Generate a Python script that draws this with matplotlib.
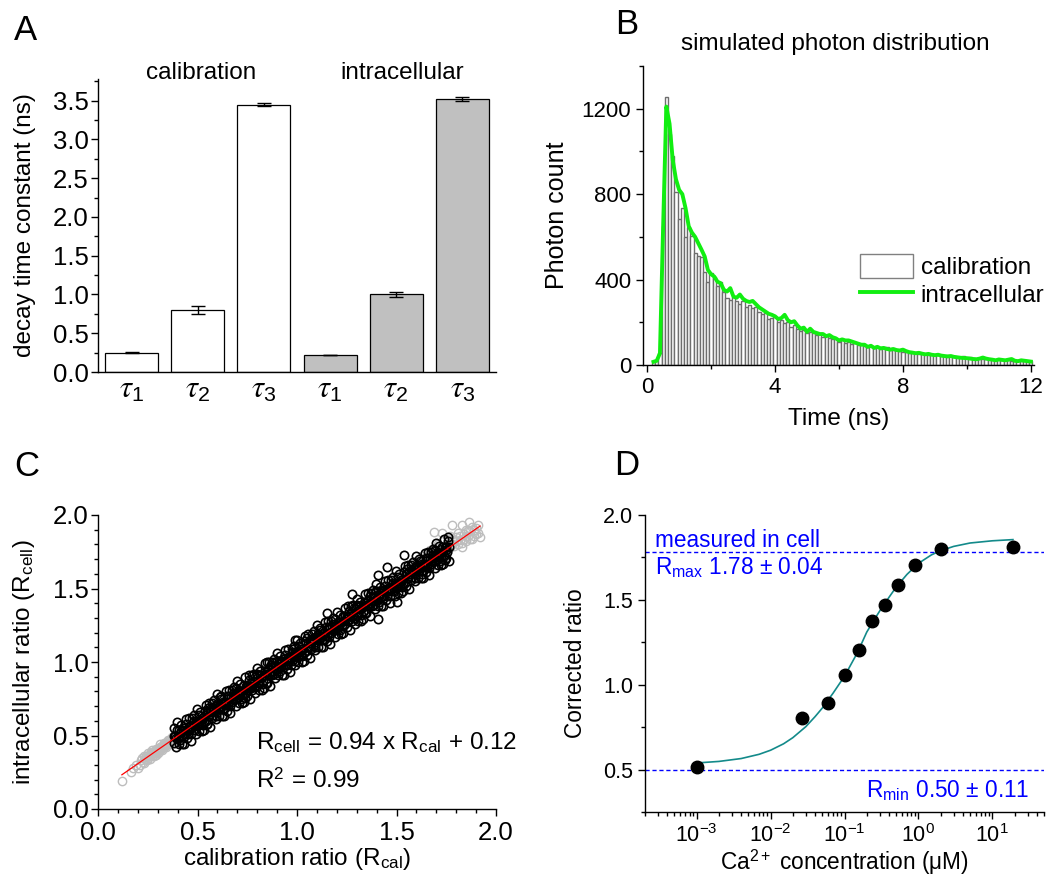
import numpy as np
import matplotlib
matplotlib.use('Agg')
import matplotlib.pyplot as plt
from matplotlib.patches import Patch
from matplotlib.lines import Line2D
from matplotlib.ticker import MultipleLocator, FormatStrFormatter, LogLocator, NullFormatter

plt.rcParams['font.family'] = ['Liberation Sans', 'DejaVu Sans']
plt.rcParams['mathtext.fontset'] = 'stix'
plt.rcParams['axes.unicode_minus'] = False

# ---- A: decay time constants (ns)
tau_labels = [r'$\tau_\mathregular{1}$', r'$\tau_\mathregular{2}$', r'$\tau_\mathregular{3}$'] * 2
cal_tau = [0.25, 0.80, 3.45]
cal_tau_err = [0.005, 0.05, 0.02]
cell_tau = [0.22, 1.00, 3.52]
cell_tau_err = [0.005, 0.03, 0.03]

# ---- B: photon histograms, 0.1 ns bins starting at 0.2 ns
bin_width = 0.1
first_bin = 0.2
cal_counts = [20, 22, 55, 650, 1255, 1080, 980, 810, 685, 735,
              600, 645, 605, 525, 510, 505, 435, 390, 430, 410,
              370, 390, 340, 315, 305, 320, 300, 285, 300, 270,
              280, 265, 270, 250, 240, 245, 215, 220, 225, 200,
              210, 195, 200, 180, 185, 170, 160, 165, 150, 155,
              150, 140, 145, 130, 135, 125, 120, 125, 110, 115,
              105, 110, 100, 105, 95, 100, 90, 85, 90, 80,
              85, 75, 80, 85, 70, 72, 68, 65, 60, 62,
              58, 55, 60, 52, 55, 50, 48, 52, 45, 48,
              44, 42, 45, 40, 42, 38, 36, 40, 34, 36,
              32, 30, 34, 30, 28, 30, 26, 25, 28, 24,
              22, 25, 21, 20, 22, 19, 18, 20, 17]
cell_counts = [15, 20, 55, 650, 1210, 1130, 960, 870, 820, 800,
               735, 650, 620, 600, 570, 540, 508, 445, 425, 414,
               390, 383, 352, 344, 360, 320, 315, 330, 310, 300,
               295, 300, 285, 270, 260, 250, 240, 235, 228, 215,
               220, 235, 210, 200, 205, 185, 170, 175, 155, 170,
               155, 150, 145, 145, 135, 140, 130, 125, 115, 120,
               115, 115, 110, 105, 100, 95, 95, 85, 90, 80,
               85, 78, 80, 75, 72, 75, 70, 68, 72, 65,
               60, 58, 55, 57, 53, 50, 52, 48, 46, 48,
               44, 42, 40, 42, 38, 36, 34, 33, 32, 30,
               28, 27, 30, 35, 30, 27, 25, 22, 26, 24,
               22, 25, 28, 20, 18, 22, 20, 18, 16]

# ---- C: pixel ratios, calibration vs intracellular
black_x = [0.380, 0.384, 0.388, 0.392, 0.397, 0.401, 0.405, 0.409, 0.413, 0.418, 0.422, 0.426,
           0.430, 0.434, 0.438, 0.442, 0.447, 0.451, 0.455, 0.459, 0.463, 0.468, 0.472, 0.476,
           0.480, 0.484, 0.488, 0.492, 0.497, 0.501, 0.505, 0.509, 0.513, 0.518, 0.522, 0.526,
           0.530, 0.534, 0.538, 0.542, 0.547, 0.551, 0.555, 0.559, 0.563, 0.568, 0.572, 0.576,
           0.580, 0.584, 0.588, 0.592, 0.597, 0.601, 0.605, 0.609, 0.613, 0.618, 0.622, 0.626,
           0.630, 0.634, 0.638, 0.642, 0.647, 0.651, 0.655, 0.659, 0.663, 0.668, 0.672, 0.676,
           0.680, 0.684, 0.688, 0.692, 0.697, 0.701, 0.705, 0.709, 0.713, 0.718, 0.722, 0.726,
           0.730, 0.734, 0.738, 0.742, 0.747, 0.751, 0.755, 0.759, 0.763, 0.768, 0.772, 0.776,
           0.780, 0.784, 0.788, 0.792, 0.797, 0.801, 0.805, 0.809, 0.813, 0.818, 0.822, 0.826,
           0.830, 0.834, 0.838, 0.842, 0.847, 0.851, 0.855, 0.859, 0.863, 0.868, 0.872, 0.876,
           0.880, 0.884, 0.888, 0.892, 0.897, 0.901, 0.905, 0.909, 0.913, 0.918, 0.922, 0.926,
           0.930, 0.934, 0.938, 0.942, 0.947, 0.951, 0.955, 0.959, 0.963, 0.968, 0.972, 0.976,
           0.980, 0.984, 0.988, 0.992, 0.997, 1.001, 1.005, 1.009, 1.013, 1.018, 1.022, 1.026,
           1.030, 1.034, 1.038, 1.042, 1.047, 1.051, 1.055, 1.059, 1.063, 1.068, 1.072, 1.076,
           1.080, 1.084, 1.088, 1.092, 1.097, 1.101, 1.105, 1.109, 1.113, 1.118, 1.122, 1.126,
           1.130, 1.134, 1.138, 1.142, 1.147, 1.151, 1.155, 1.159, 1.163, 1.168, 1.172, 1.176,
           1.180, 1.184, 1.188, 1.192, 1.197, 1.201, 1.205, 1.209, 1.213, 1.218, 1.222, 1.226,
           1.230, 1.234, 1.238, 1.242, 1.247, 1.251, 1.255, 1.259, 1.263, 1.268, 1.272, 1.276,
           1.280, 1.284, 1.288, 1.292, 1.297, 1.301, 1.305, 1.309, 1.313, 1.318, 1.322, 1.326,
           1.330, 1.334, 1.338, 1.342, 1.347, 1.351, 1.355, 1.359, 1.363, 1.368, 1.372, 1.376,
           1.380, 1.384, 1.388, 1.392, 1.397, 1.401, 1.405, 1.409, 1.413, 1.418, 1.422, 1.426,
           1.430, 1.434, 1.438, 1.442, 1.447, 1.451, 1.455, 1.459, 1.463, 1.468, 1.472, 1.476,
           1.480, 1.484, 1.488, 1.492, 1.497, 1.501, 1.505, 1.509, 1.513, 1.518, 1.522, 1.526,
           1.530, 1.534, 1.538, 1.542, 1.547, 1.551, 1.555, 1.559, 1.563, 1.568, 1.572, 1.576,
           1.580, 1.584, 1.588, 1.592, 1.597, 1.601, 1.605, 1.609, 1.613, 1.618, 1.622, 1.626,
           1.630, 1.634, 1.638, 1.642, 1.647, 1.651, 1.655, 1.659, 1.663, 1.668, 1.672, 1.676,
           1.680, 1.684, 1.688, 1.692, 1.697, 1.701, 1.705, 1.709, 1.713, 1.718, 1.722, 1.726,
           1.730, 1.734, 1.738, 1.742, 1.747, 1.751, 1.755, 1.759, 1.763,
           0.738, 1.409, 1.451, 1.409, 0.847, 0.990, 1.275, 1.500, 1.745, 1.540, 0.620, 1.150, 0.550, 1.630]
black_y = [0.50, 0.45, 0.50, 0.48, 0.54, 0.48, 0.50, 0.54, 0.47, 0.53, 0.50, 0.54,
           0.51, 0.55, 0.51, 0.58, 0.54, 0.51, 0.56, 0.54, 0.56, 0.51, 0.56, 0.54,
           0.60, 0.57, 0.54, 0.60, 0.58, 0.60, 0.57, 0.64, 0.60, 0.58, 0.62, 0.57,
           0.62, 0.60, 0.67, 0.60, 0.66, 0.69, 0.63, 0.63, 0.68, 0.66, 0.62, 0.67,
           0.64, 0.68, 0.70, 0.63, 0.70, 0.69, 0.72, 0.69, 0.68, 0.75, 0.70, 0.68,
           0.73, 0.68, 0.73, 0.71, 0.77, 0.71, 0.73, 0.77, 0.70, 0.76, 0.73, 0.77,
           0.75, 0.79, 0.75, 0.82, 0.78, 0.75, 0.80, 0.78, 0.80, 0.75, 0.80, 0.78,
           0.84, 0.81, 0.78, 0.84, 0.82, 0.84, 0.81, 0.88, 0.84, 0.82, 0.86, 0.81,
           0.85, 0.83, 0.90, 0.83, 0.89, 0.92, 0.86, 0.86, 0.91, 0.89, 0.85, 0.90,
           0.87, 0.91, 0.93, 0.86, 0.93, 0.92, 0.95, 0.92, 0.91, 0.98, 0.93, 0.91,
           0.97, 0.92, 0.97, 0.95, 1.01, 0.95, 0.97, 1.01, 0.94, 1.00, 0.97, 1.01,
           0.98, 1.02, 0.98, 1.05, 1.01, 0.98, 1.03, 1.01, 1.03, 0.98, 1.03, 1.01,
           1.07, 1.04, 1.01, 1.07, 1.05, 1.07, 1.04, 1.11, 1.07, 1.05, 1.09, 1.04,
           1.09, 1.07, 1.14, 1.07, 1.13, 1.16, 1.10, 1.10, 1.15, 1.13, 1.09, 1.14,
           1.11, 1.15, 1.17, 1.10, 1.17, 1.16, 1.19, 1.16, 1.15, 1.22, 1.17, 1.15,
           1.20, 1.15, 1.20, 1.18, 1.24, 1.18, 1.20, 1.24, 1.17, 1.23, 1.20, 1.24,
           1.22, 1.26, 1.22, 1.29, 1.25, 1.22, 1.27, 1.25, 1.27, 1.22, 1.27, 1.25,
           1.31, 1.28, 1.25, 1.31, 1.29, 1.31, 1.28, 1.35, 1.31, 1.29, 1.33, 1.28,
           1.32, 1.30, 1.37, 1.30, 1.36, 1.39, 1.33, 1.33, 1.38, 1.36, 1.32, 1.37,
           1.34, 1.38, 1.40, 1.33, 1.40, 1.39, 1.42, 1.39, 1.38, 1.45, 1.40, 1.38,
           1.44, 1.39, 1.44, 1.42, 1.48, 1.42, 1.44, 1.48, 1.41, 1.47, 1.44, 1.48,
           1.45, 1.49, 1.45, 1.52, 1.48, 1.45, 1.50, 1.48, 1.50, 1.45, 1.50, 1.48,
           1.54, 1.51, 1.48, 1.54, 1.52, 1.54, 1.51, 1.58, 1.54, 1.52, 1.56, 1.51,
           1.56, 1.54, 1.61, 1.54, 1.60, 1.63, 1.57, 1.57, 1.62, 1.60, 1.56, 1.61,
           1.58, 1.62, 1.64, 1.57, 1.64, 1.63, 1.66, 1.63, 1.62, 1.69, 1.64, 1.62,
           1.67, 1.62, 1.67, 1.65, 1.71, 1.65, 1.67, 1.71, 1.64, 1.70, 1.67, 1.71,
           1.69, 1.73, 1.69, 1.76, 1.72, 1.69, 1.74, 1.72, 1.74, 1.69, 1.74, 1.72,
           1.78, 1.75, 1.72, 1.78, 1.76, 1.78, 1.75, 1.82, 1.78,
           0.753, 1.292, 1.649, 1.592, 1.002, 1.150, 1.463, 1.410, 1.694, 1.728, 0.770, 1.330, 0.580, 1.600]
# points on the upper/lower fringe of the black band
edge_x = [0.383, 0.391, 0.399, 0.407, 0.415, 0.423, 0.433, 0.441, 0.449, 0.457, 0.465, 0.473,
          0.483, 0.491, 0.499, 0.507, 0.515, 0.523, 0.533, 0.541, 0.549, 0.557, 0.565, 0.573,
          0.583, 0.591, 0.599, 0.607, 0.615, 0.623, 0.633, 0.641, 0.649, 0.657, 0.665, 0.673,
          0.683, 0.691, 0.699, 0.707, 0.715, 0.723, 0.733, 0.741, 0.749, 0.757, 0.765, 0.773,
          0.783, 0.791, 0.799, 0.807, 0.815, 0.823, 0.833, 0.841, 0.849, 0.857, 0.865, 0.873,
          0.883, 0.891, 0.899, 0.907, 0.915, 0.923, 0.933, 0.941, 0.949, 0.957, 0.965, 0.973,
          0.983, 0.991, 0.999, 1.007, 1.015, 1.023, 1.033, 1.041, 1.049, 1.057, 1.065, 1.073,
          1.083, 1.091, 1.099, 1.107, 1.115, 1.123, 1.133, 1.141, 1.149, 1.157, 1.165, 1.173,
          1.183, 1.191, 1.199, 1.207, 1.215, 1.223, 1.233, 1.241, 1.249, 1.257, 1.265, 1.273,
          1.283, 1.291, 1.299, 1.307, 1.315, 1.323, 1.333, 1.341, 1.349, 1.357, 1.365, 1.373,
          1.383, 1.391, 1.399, 1.407, 1.415, 1.423, 1.433, 1.441, 1.449, 1.457, 1.465, 1.473,
          1.483, 1.491, 1.499, 1.507, 1.515, 1.523, 1.533, 1.541, 1.549, 1.557, 1.565, 1.573,
          1.583, 1.591, 1.599, 1.607, 1.615, 1.623, 1.633, 1.641, 1.649, 1.657, 1.665, 1.673,
          1.683, 1.691, 1.699, 1.707, 1.715, 1.723, 1.733, 1.741, 1.749, 1.757, 1.765]
edge_y = [0.55, 0.42, 0.59, 0.44, 0.57, 0.44, 0.44, 0.61, 0.48, 0.62, 0.46, 0.62,
          0.64, 0.51, 0.68, 0.53, 0.66, 0.53, 0.54, 0.71, 0.58, 0.72, 0.56, 0.72,
          0.74, 0.61, 0.78, 0.63, 0.76, 0.63, 0.63, 0.80, 0.67, 0.81, 0.65, 0.81,
          0.83, 0.70, 0.87, 0.72, 0.85, 0.72, 0.73, 0.90, 0.77, 0.91, 0.75, 0.91,
          0.92, 0.79, 0.96, 0.81, 0.94, 0.81, 0.82, 0.99, 0.86, 1.00, 0.84, 1.00,
          1.02, 0.89, 1.06, 0.91, 1.04, 0.91, 0.91, 1.08, 0.95, 1.09, 0.93, 1.09,
          1.11, 0.98, 1.15, 1.00, 1.13, 1.00, 1.01, 1.18, 1.05, 1.19, 1.03, 1.19,
          1.21, 1.08, 1.25, 1.10, 1.23, 1.10, 1.10, 1.27, 1.14, 1.28, 1.12, 1.28,
          1.30, 1.17, 1.34, 1.19, 1.32, 1.19, 1.20, 1.37, 1.24, 1.38, 1.22, 1.38,
          1.39, 1.26, 1.43, 1.28, 1.41, 1.28, 1.29, 1.46, 1.33, 1.47, 1.31, 1.47,
          1.49, 1.36, 1.53, 1.38, 1.51, 1.38, 1.38, 1.55, 1.42, 1.56, 1.40, 1.56,
          1.58, 1.45, 1.62, 1.47, 1.60, 1.47, 1.48, 1.65, 1.52, 1.66, 1.50, 1.66,
          1.68, 1.55, 1.72, 1.57, 1.70, 1.57, 1.57, 1.74, 1.61, 1.75, 1.59, 1.75,
          1.77, 1.64, 1.81, 1.66, 1.79, 1.66, 1.67, 1.84, 1.71, 1.85, 1.69]
gray_x = [0.120, 0.165, 0.175, 0.200, 0.215, 0.225, 0.235, 0.240, 0.250, 0.255, 0.260, 0.270,
          0.275, 0.280, 0.285, 0.290, 0.295, 0.300, 0.305, 0.310, 0.315, 0.320, 0.325, 0.330,
          0.335, 0.340, 0.345, 0.350, 0.355, 0.360, 0.365, 0.370, 0.375, 0.380, 0.390, 0.400,
          0.210, 0.245, 0.265, 0.290, 0.310, 0.330,
          0.22, 0.23, 0.25, 0.26, 0.27, 0.28, 0.29, 0.30, 0.31, 0.32, 0.33, 0.34,
          0.35, 0.36, 0.37, 0.38, 0.39, 0.40, 0.41, 0.42, 0.19, 0.23,
          1.62, 1.64, 1.66, 1.68, 1.69, 1.70, 1.71, 1.72, 1.73, 1.74, 1.75, 1.76, 1.77, 1.78,
          1.78, 1.79, 1.80, 1.80, 1.81, 1.82, 1.82, 1.83, 1.84, 1.84, 1.85, 1.86, 1.86, 1.87,
          1.88, 1.89, 1.90, 1.91, 1.92, 1.73, 1.686, 1.66, 1.76, 1.778, 1.83, 1.862,
          1.63, 1.65, 1.67, 1.69, 1.71, 1.72, 1.74, 1.75, 1.77, 1.79, 1.81, 1.83,
          1.85, 1.87, 1.88, 1.90, 1.91, 1.89, 1.85, 1.76]
gray_y = [0.19, 0.255, 0.28, 0.28, 0.33, 0.32, 0.34, 0.36, 0.35, 0.37, 0.36, 0.38,
          0.37, 0.39, 0.38, 0.40, 0.39, 0.40, 0.41, 0.42, 0.41, 0.43, 0.42, 0.44,
          0.43, 0.45, 0.44, 0.46, 0.45, 0.47, 0.46, 0.48, 0.47, 0.49, 0.48, 0.50,
          0.30, 0.33, 0.39, 0.37, 0.40, 0.42,
          0.35, 0.31, 0.38, 0.34, 0.40, 0.36, 0.41, 0.38, 0.44, 0.40, 0.45, 0.42,
          0.47, 0.44, 0.49, 0.46, 0.51, 0.47, 0.52, 0.50, 0.30, 0.36,
          1.67, 1.70, 1.69, 1.74, 1.71, 1.76, 1.73, 1.78, 1.75, 1.79, 1.77, 1.81, 1.78, 1.83,
          1.80, 1.79, 1.85, 1.82, 1.80, 1.86, 1.83, 1.81, 1.87, 1.84, 1.82, 1.86, 1.89, 1.89,
          1.84, 1.90, 1.87, 1.88, 1.85, 1.88, 1.882, 1.73, 1.84, 1.932, 1.93, 1.955,
          1.72, 1.66, 1.76, 1.66, 1.80, 1.69, 1.83, 1.72, 1.86, 1.83, 1.88, 1.78,
          1.90, 1.84, 1.92, 1.91, 1.93, 1.86, 1.86, 1.76]
fit_slope = 0.94
fit_intercept = 0.12
fit_range = [0.12, 1.92]

# ---- D: calibration in Ca2+ buffers
ca_conc = [0.001, 0.0262, 0.0589, 0.102, 0.156, 0.234, 0.350, 0.535, 0.91, 2.01, 18.9]
corr_ratio = [0.516, 0.802, 0.894, 1.058, 1.204, 1.377, 1.472, 1.586, 1.708, 1.801, 1.813]
curve_conc = [0.001, 0.002, 0.004, 0.007, 0.01, 0.015, 0.02, 0.03, 0.04, 0.05, 0.07, 0.1,
              0.15, 0.2, 0.25, 0.3, 0.4, 0.5, 0.7, 1.0, 1.5, 2.0, 3.0, 5.0, 10.0, 19.0]
curve_ratio = [0.539, 0.548, 0.565, 0.590, 0.614, 0.652, 0.688, 0.753, 0.812, 0.862, 0.950, 1.050,
               1.190, 1.310, 1.380, 1.435, 1.515, 1.575, 1.650, 1.715, 1.765, 1.790, 1.815, 1.835, 1.848, 1.855]
r_max = 1.78
r_min = 0.50

W, H = 1055, 875
fig = plt.figure(figsize=(W / 100, H / 100), dpi=100)


def add_axes(l, t, r, b):
    # axes box given in pixels of the final image
    ax = fig.add_axes([l / W, 1 - b / H, (r - l) / W, (b - t) / H])
    ax.spines['top'].set_visible(False)
    ax.spines['right'].set_visible(False)
    for s in ('left', 'bottom'):
        ax.spines[s].set_linewidth(1.0)
    ax.tick_params(which='both', direction='out', width=1.0)
    ax.tick_params(which='major', length=5)
    ax.tick_params(which='minor', length=3)
    return ax


# A
axA = add_axes(98, 79, 496, 372)
pos = np.arange(1, 7)
ekw = dict(elinewidth=1, capthick=1, ecolor='black')
axA.bar(pos[:3], cal_tau, width=0.8, color='white', edgecolor='black', linewidth=0.9,
        yerr=cal_tau_err, capsize=5, error_kw=ekw)
axA.bar(pos[3:], cell_tau, width=0.8, color='#c0c0c0', edgecolor='black', linewidth=0.9,
        yerr=cell_tau_err, capsize=5, error_kw=ekw)
axA.set_xlim(0.49, 6.51)
axA.set_ylim(0, 3.78)
axA.set_xticks(pos)
axA.set_xticklabels(tau_labels, fontsize=22)
axA.tick_params(axis='x', length=0, pad=2)
axA.yaxis.set_major_locator(MultipleLocator(0.5))
axA.yaxis.set_minor_locator(MultipleLocator(0.25))
axA.yaxis.set_major_formatter(FormatStrFormatter('%.1f'))
axA.tick_params(axis='y', labelsize=18.5, pad=1.5)
axA.set_ylabel('decay time constant (ns)', fontsize=17.5)
axA.yaxis.set_label_coords(-0.155, 0.5)
axA.text(0.259, 1.02, 'calibration', transform=axA.transAxes, ha='center', va='center', fontsize=17.5)
axA.text(0.764, 1.02, 'intracellular', transform=axA.transAxes, ha='center', va='center', fontsize=17.5)

# B
green = '#11ee11'
axB = add_axes(643, 66, 1034, 365)
t = first_bin + bin_width * np.arange(len(cal_counts))
axB.bar(t, cal_counts, width=bin_width, color='white', edgecolor='#6e6e6e', linewidth=1.0)
axB.plot(t, cell_counts, color=green, lw=2.8)
axB.set_xlim(-0.13, 12.1)
axB.set_ylim(0, 1400)
axB.xaxis.set_major_locator(MultipleLocator(4))
axB.xaxis.set_minor_locator(MultipleLocator(2))
axB.yaxis.set_major_locator(MultipleLocator(400))
axB.yaxis.set_minor_locator(MultipleLocator(200))
axB.tick_params(labelsize=16)
axB.set_xlabel('Time (ns)', fontsize=17.5)
axB.xaxis.set_label_coords(0.5, -0.145)
axB.set_ylabel('Photon count', fontsize=18)
axB.yaxis.set_label_coords(-0.19, 0.5)
axB.text(0.493, 1.074, 'simulated photon distribution', transform=axB.transAxes,
         ha='center', va='center', fontsize=17.5)
handles = [Patch(facecolor='white', edgecolor='#808080', linewidth=1.0, label='calibration'),
           Line2D([], [], color=green, lw=2.8, label='intracellular')]
axB.legend(handles=handles, loc='upper left', bbox_to_anchor=(0.555, 0.37), frameon=False,
           fontsize=17.5, handlelength=2.2, handleheight=1.1, handletextpad=0.3,
           labelspacing=0.1, borderpad=0, borderaxespad=0)

# C
axC = add_axes(98, 515, 496, 809)
axC.plot(gray_x, gray_y, 'o', mfc='none', mec='#bdbdbd', ms=6, mew=1.0)
axC.plot(black_x, black_y, 'o', mfc='none', mec='black', ms=6, mew=1.2)
axC.plot(edge_x, edge_y, 'o', mfc='none', mec='black', ms=6, mew=1.2)
fx = np.array(fit_range)
axC.plot(fx, fit_slope * fx + fit_intercept, color='red', lw=0.9)
axC.set_xlim(0, 2)
axC.set_ylim(0, 2)
for a in (axC.xaxis, axC.yaxis):
    a.set_major_locator(MultipleLocator(0.5))
    a.set_minor_locator(MultipleLocator(0.1))
    a.set_major_formatter(FormatStrFormatter('%.1f'))
axC.tick_params(labelsize=18.5)
axC.tick_params(axis='y', pad=1.5)
axC.set_xlabel(r'calibration ratio (R$_\mathregular{cal}$)', fontsize=17.5)
axC.xaxis.set_label_coords(0.5, -0.125)
axC.set_ylabel(r'intracellular ratio (R$_\mathregular{cell}$)', fontsize=17.5)
axC.yaxis.set_label_coords(-0.153, 0.5)
axC.text(0.794, 0.406, r'R$_\mathregular{cell}$ = 0.94 x R$_\mathregular{cal}$ + 0.12', fontsize=17.5, va='baseline')
axC.text(0.794, 0.141, r'R$^\mathregular{2}$ = 0.99', fontsize=17.5, va='baseline')

# D
axD = add_axes(645, 515, 1044, 812)
axD.set_xscale('log')
axD.axhline(r_max, color='blue', lw=1, ls=(0, (3, 2)))
axD.axhline(r_min, color='blue', lw=1, ls=(0, (3, 2)))
axD.plot(curve_conc, curve_ratio, color='#138a8a', lw=1.2)
axD.plot(ca_conc, corr_ratio, 'o', color='black', ms=9, zorder=3)
axD.set_xlim(2e-4, 50)
axD.set_ylim(0.25, 2.0)
axD.xaxis.set_major_locator(LogLocator(base=10, numticks=12))
axD.xaxis.set_minor_locator(LogLocator(base=10, subs=np.arange(2, 10), numticks=12))
axD.xaxis.set_minor_formatter(NullFormatter())
axD.yaxis.set_major_locator(MultipleLocator(0.5))
axD.yaxis.set_minor_locator(MultipleLocator(0.25))
axD.yaxis.set_major_formatter(FormatStrFormatter('%.1f'))
axD.tick_params(labelsize=15.5)
axD.set_xlabel(r'Ca$^\mathregular{2+}$ concentration (μM)', fontsize=16.3)
axD.xaxis.set_label_coords(0.5, -0.121)
axD.set_ylabel('Corrected ratio', fontsize=16.3)
axD.yaxis.set_label_coords(-0.145, 0.5)
axD.text(2.75e-4, 1.81, 'measured in cell', color='blue', fontsize=16.3, va='baseline')
axD.text(2.75e-4, 1.65, r'R$_\mathregular{max}$ 1.78 ± 0.04', color='blue', fontsize=16.3, va='baseline')
axD.text(32, 0.336, r'R$_\mathregular{min}$ 0.50 ± 0.11', color='blue', fontsize=16.3, va='baseline', ha='right')

# panel letters
for letter, x, y in [('A', 26, 31), ('B', 627, 24), ('C', 27, 466), ('D', 627, 465)]:
    fig.text(x / W, 1 - y / H, letter, fontsize=25, ha='center', va='center')

fig.savefig('out.png', dpi=100)
